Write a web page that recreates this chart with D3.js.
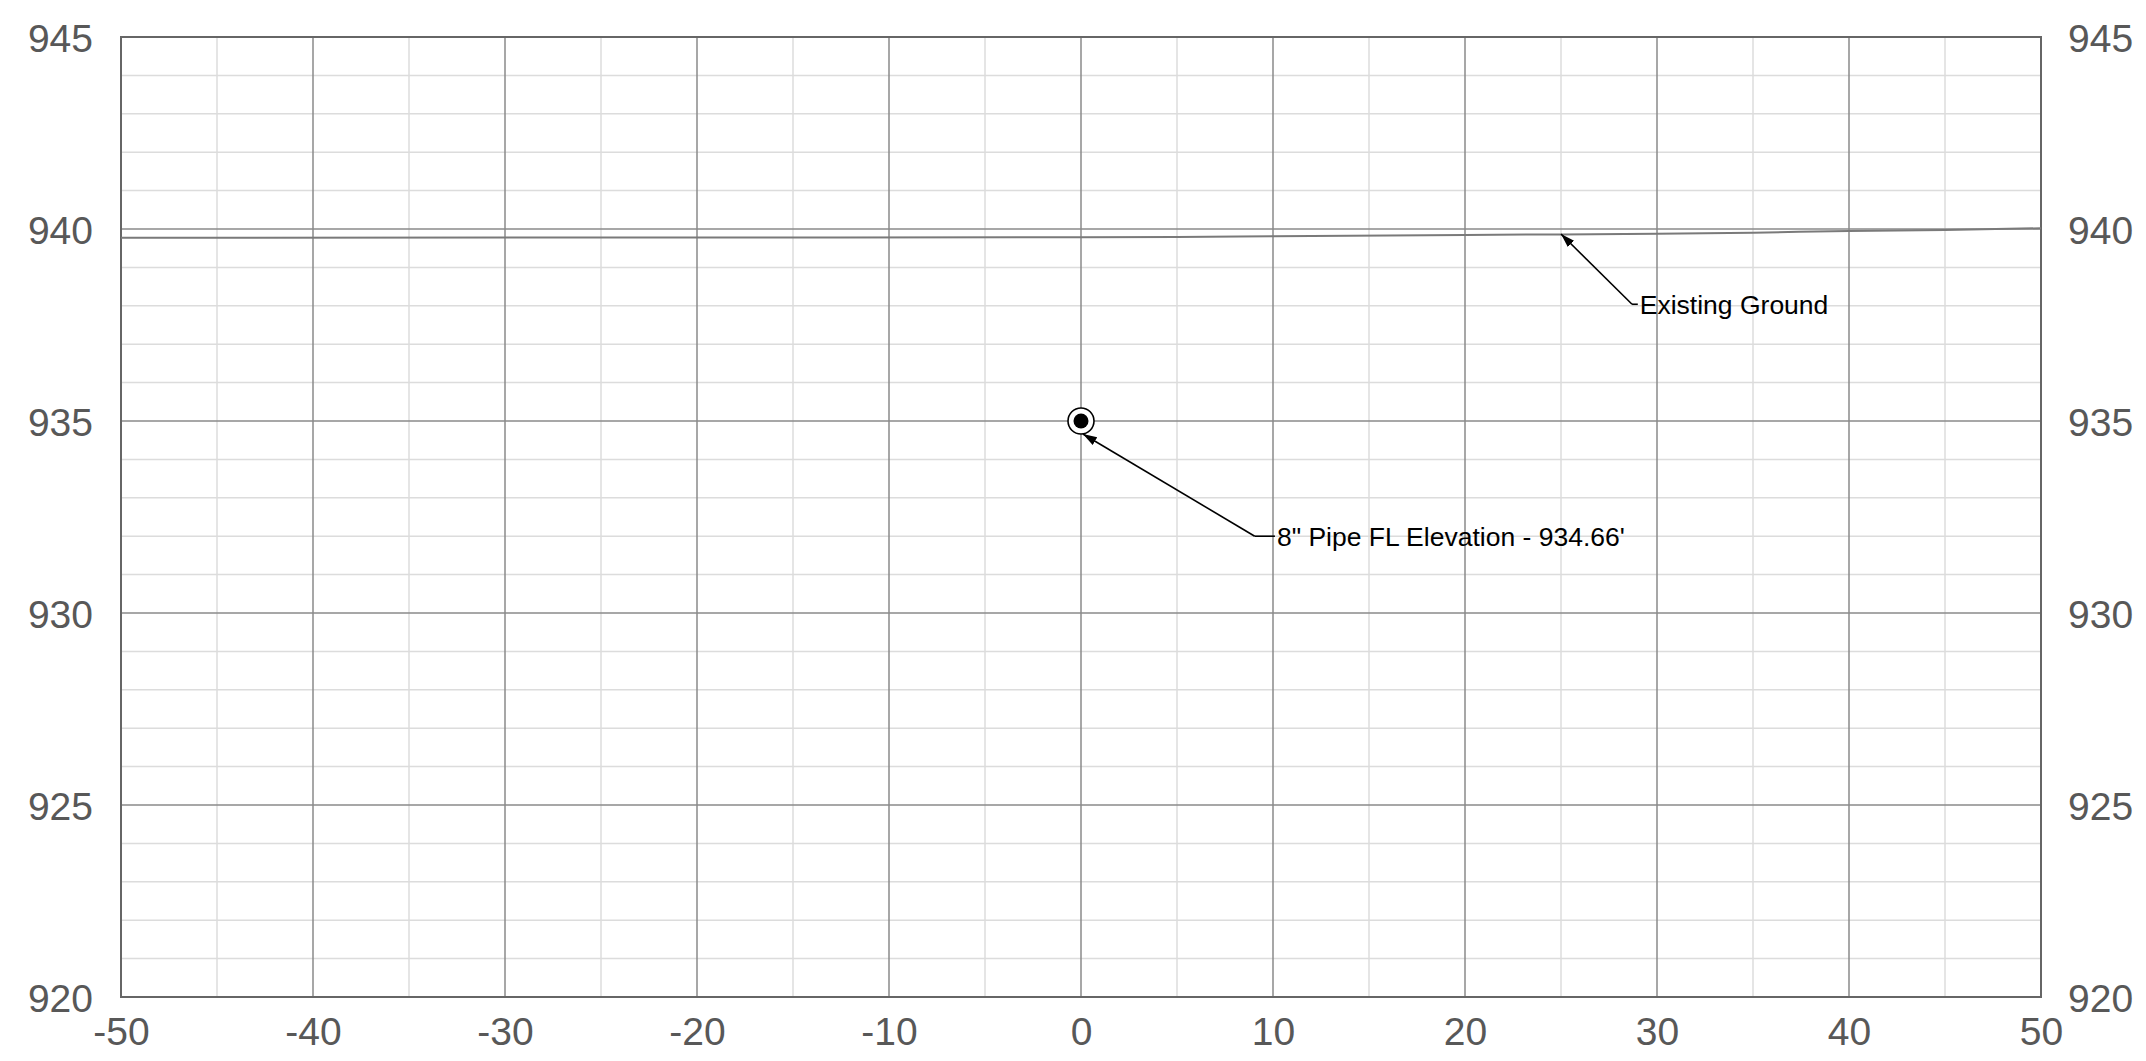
<!DOCTYPE html>
<html>
<head>
<meta charset="utf-8">
<script src="https://cdn.jsdelivr.net/npm/d3@7"></script>
<style>
  html, body { margin: 0; padding: 0; background: #fff; }
  svg { display: block; }
  text { font-family: "Liberation Sans", Arial, sans-serif; }
</style>
</head>
<body>
<svg id="chart" width="2146" height="1061"></svg>
<script>
// ---- data ----
const xDomain = [-50, 50];
const yDomain = [920, 945];
const xTickValues = [-50, -40, -30, -20, -10, 0, 10, 20, 30, 40, 50];
const xTickLabels = ["-50", "-40", "-30", "-20", "-10", "0", "10", "20", "30", "40", "50"];
const yTickValues = [920, 925, 930, 935, 940, 945];
const groundStations = [-50, -20, 0, 5, 10, 20, 25, 30, 35, 40, 45, 50];
const groundElevations = [939.77, 939.78, 939.785, 939.79, 939.81, 939.845, 939.86, 939.875, 939.905, 939.95, 939.975, 940.02];
const pipeStation = 0;
const pipeElevation = 935;
const pipeLabel = "8\" Pipe FL Elevation - 934.66'";
const groundLabel = "Existing Ground";
// annotation anchors (data units): tip, elbow
const pipeNote = { tip: [0.1, 934.66], elbow: [9.05, 932.0], label: pipeLabel, tick: 1.05 };
const groundNote = { tip: [25, 939.87], elbow: [28.7, 938.04], label: groundLabel, tick: 0.3 };

// ---- layout ----
const margin = { left: 121, top: 37, right: 105, bottom: 64 };
const W = 2146, H = 1061;
const iw = W - margin.left - margin.right;
const ih = H - margin.top - margin.bottom;

const svg = d3.select("#chart");
const defs = svg.append("defs");
defs.append("marker")
  .attr("id", "arrow")
  .attr("viewBox", "0 0 10 10")
  .attr("refX", 10).attr("refY", 5)
  .attr("markerWidth", 14).attr("markerHeight", 14)
  .attr("markerUnits", "userSpaceOnUse")
  .attr("orient", "auto-start-reverse")
  .append("path").attr("d", "M0,1.8 L10,5 L0,8.2 Z").attr("fill", "#000");

const g = svg.append("g").attr("transform", `translate(${margin.left},${margin.top})`);

const x = d3.scaleLinear().domain(xDomain).range([0, iw]);
const y = d3.scaleLinear().domain(yDomain).range([ih, 0]);

// minor grid
const xMinor = d3.range(xDomain[0], xDomain[1] + 0.001, 5).filter(v => v % 10 !== 0);
const yMinor = d3.range(yDomain[0], yDomain[1] + 0.001, 1).filter(v => v % 5 !== 0);
g.append("g").selectAll("line").data(xMinor).join("line")
  .attr("x1", d => x(d)).attr("x2", d => x(d)).attr("y1", 0).attr("y2", ih)
  .attr("stroke", "#dcdcdc").attr("stroke-width", 1.5);
g.append("g").selectAll("line").data(yMinor).join("line")
  .attr("y1", d => y(d)).attr("y2", d => y(d)).attr("x1", 0).attr("x2", iw)
  .attr("stroke", "#dcdcdc").attr("stroke-width", 1.5);

// major grid
g.append("g").selectAll("line").data(xTickValues).join("line")
  .attr("x1", d => x(d)).attr("x2", d => x(d)).attr("y1", 0).attr("y2", ih)
  .attr("stroke", "#8a8a8a").attr("stroke-width", 1.5);
g.append("g").selectAll("line").data(yTickValues).join("line")
  .attr("y1", d => y(d)).attr("y2", d => y(d)).attr("x1", 0).attr("x2", iw)
  .attr("stroke", "#8a8a8a").attr("stroke-width", 1.5);

// border
g.append("rect").attr("x", 0).attr("y", 0).attr("width", iw).attr("height", ih)
  .attr("fill", "none").attr("stroke", "#666").attr("stroke-width", 2);

// axes (labels only)
const labelStyle = sel => {
  sel.select(".domain").remove();
  sel.selectAll(".tick line").remove();
  sel.selectAll(".tick text").attr("font-size", 39).attr("fill", "#585858")
    .attr("font-family", "'Liberation Sans', Arial, sans-serif");
};
g.append("g").attr("transform", `translate(0,${ih})`)
  .call(d3.axisBottom(x).tickValues(xTickValues)
    .tickFormat((d, i) => xTickLabels[i]).tickSize(0).tickPadding(20))
  .call(labelStyle)
  .selectAll(".tick text").attr("dy", "0.71em");
g.append("g")
  .call(d3.axisLeft(y).tickValues(yTickValues).tickFormat(d => String(d)).tickSize(0).tickPadding(28))
  .call(labelStyle)
  .selectAll(".tick text").attr("dy", "0.37em");
g.append("g").attr("transform", `translate(${iw},0)`)
  .call(d3.axisRight(y).tickValues(yTickValues).tickFormat(d => String(d)).tickSize(0).tickPadding(27))
  .call(labelStyle)
  .selectAll(".tick text").attr("dy", "0.37em");

// existing ground
const ground = groundStations.map((s, i) => [s, groundElevations[i]]);
g.append("path").datum(ground)
  .attr("d", d3.line().x(d => x(d[0])).y(d => y(d[1])).curve(d3.curveMonotoneX))
  .attr("fill", "none").attr("stroke", "#7a7a7a").attr("stroke-width", 2);

// pipe
g.append("circle").attr("cx", x(pipeStation)).attr("cy", y(pipeElevation)).attr("r", 13)
  .attr("fill", "#fff").attr("stroke", "#000").attr("stroke-width", 1.6);
g.append("circle").attr("cx", x(pipeStation)).attr("cy", y(pipeElevation)).attr("r", 7.5)
  .attr("fill", "#000");

// annotations
[pipeNote, groundNote].forEach(n => {
  const ex = x(n.elbow[0]), ey = y(n.elbow[1]);
  g.append("line")
    .attr("x1", ex).attr("y1", ey).attr("x2", x(n.tip[0])).attr("y2", y(n.tip[1]))
    .attr("stroke", "#000").attr("stroke-width", 1.6)
    .attr("marker-end", "url(#arrow)");
  const tx = x(n.elbow[0] + n.tick);
  g.append("line").attr("x1", ex).attr("y1", ey).attr("x2", tx).attr("y2", ey)
    .attr("stroke", "#000").attr("stroke-width", 1.6);
  g.append("text").attr("x", tx + 2).attr("y", ey).attr("dy", "0.36em")
    .attr("font-size", 26.5).attr("fill", "#000").text(n.label);
});
</script>
</body>
</html>
